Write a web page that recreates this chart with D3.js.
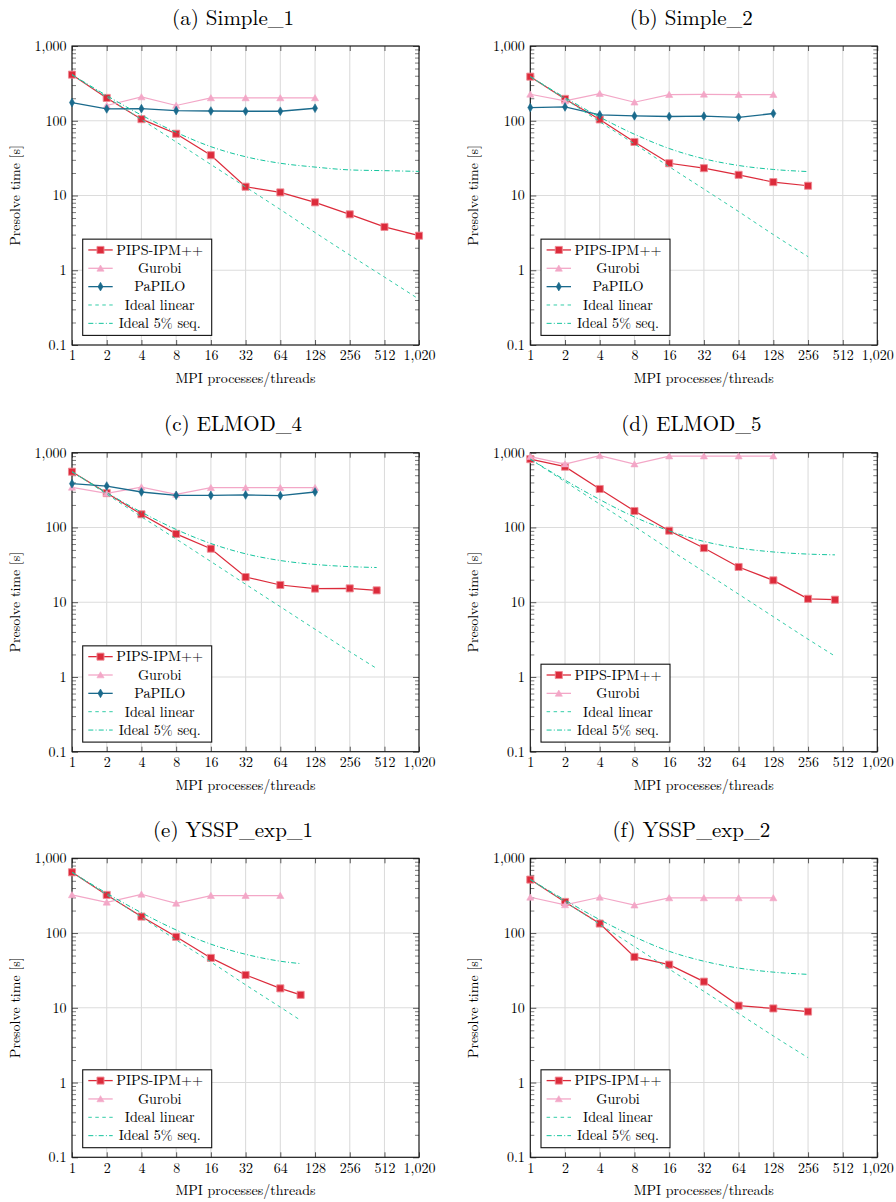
<!DOCTYPE html>
<html><head><meta charset="utf-8">
<script src="https://cdn.jsdelivr.net/npm/d3@7"></script>
<style>
body{margin:0;background:#fff;}
svg text{font-family:"Latin Modern Roman","Liberation Serif",serif;fill:#000;}
</style></head><body>
<svg id="chart" width="896" height="1202" xmlns="http://www.w3.org/2000/svg"></svg>
<script>
// ---------- shared ticks / labels ----------
const xTickValues = [1, 2, 4, 8, 16, 32, 64, 128, 256, 512, 1020];
const yTickValues = [0.1, 1, 10, 100, 1000];
const titles = ["(a) Simple_1", "(b) Simple_2", "(c) ELMOD_4", "(d) ELMOD_5", "(e) YSSP_exp_1", "(f) YSSP_exp_2"];
const seriesNames = ["PIPS-IPM++", "Gurobi", "PaPILO", "Ideal linear", "Ideal 5% seq."];
const xLabel = "MPI processes/threads";
const yLabel = "Presolve time [s]";

// ---------- (a) Simple_1 ----------
const a_pipsProcs = [1, 2, 4, 8, 16, 32, 64, 128, 256, 512, 1020];
const a_pipsTime = [414, 202, 105, 67, 34.6, 13.1, 11, 8.1, 5.6, 3.8, 2.9];
const a_gurobiProcs = [2, 4, 8, 16, 32, 64, 128];
const a_gurobiTime = [160, 208, 160, 202, 202, 202, 202];
const a_papiloProcs = [1, 2, 4, 8, 16, 32, 64, 128];
const a_papiloTime = [175, 144, 145, 137, 135, 134, 134, 147];
const a_idealProcs = [1, 2, 4, 8, 16, 32, 64, 128, 256, 512, 1020];
const a_idealLinear = [414, 207, 104, 52, 26, 13, 6.5, 3.2, 1.6, 0.81, 0.41];
const a_ideal5 = [414, 217, 119, 70, 45, 33, 27, 24, 22, 21.5, 21];

// ---------- (b) Simple_2 ----------
const b_pipsProcs = [1, 2, 4, 8, 16, 32, 64, 128, 256];
const b_pipsTime = [389, 196, 104, 52, 27, 23.2, 18.9, 15.1, 13.5];
const b_gurobiProcs = [1, 2, 4, 8, 16, 32, 64, 128];
const b_gurobiTime = [226, 184, 231, 177, 224, 226, 224, 224];
const b_papiloProcs = [1, 2, 4, 8, 16, 32, 64, 128];
const b_papiloTime = [150, 153, 120, 116, 114, 115, 111, 125];
const b_idealProcs = [1, 2, 4, 8, 16, 32, 64, 128, 256];
const b_idealLinear = [389, 195, 97, 49, 24.3, 12.2, 6.1, 3.0, 1.52];
const b_ideal5 = [389, 204, 112, 66, 42.5, 31, 25.2, 22.3, 20.9];

// ---------- (c) ELMOD_4 ----------
const c_pipsProcs = [1, 2, 4, 8, 16, 32, 64, 128, 256, 438];
const c_pipsTime = [557, 288, 150, 82, 52, 21.7, 17, 15.2, 15.3, 14.4];
const c_gurobiProcs = [1, 2, 4, 8, 16, 32, 64, 128];
const c_gurobiTime = [344, 286, 347, 277, 340, 340, 340, 340];
const c_papiloProcs = [1, 2, 4, 8, 16, 32, 64, 128];
const c_papiloTime = [385, 358, 298, 269, 269, 272, 266, 298];
const c_idealProcs = [1, 2, 4, 8, 16, 32, 64, 128, 256, 438];
const c_idealLinear = [557, 279, 139, 70, 35, 17.4, 8.7, 4.35, 2.18, 1.3];
const c_ideal5 = [557, 292, 160, 94, 61, 44.4, 36.1, 32, 29.9, 29.1];

// ---------- (d) ELMOD_5 ----------
const d_pipsProcs = [1, 2, 4, 8, 16, 32, 64, 128, 256, 438];
const d_pipsTime = [820, 650, 327, 166, 90.5, 53, 29.6, 19.6, 11.1, 10.8];
const d_gurobiProcs = [1, 2, 4, 8, 16, 32, 64, 128];
const d_gurobiTime = [884, 705, 912, 705, 902, 902, 902, 902];
const d_idealProcs = [1, 2, 4, 8, 16, 32, 64, 128, 256, 438];
const d_idealLinear = [820, 410, 205, 103, 51, 25.6, 12.8, 6.4, 3.2, 1.9];
const d_ideal5 = [820, 430, 236, 138, 90, 65, 53, 47, 44, 43];

// ---------- (e) YSSP_exp_1 ----------
const e_pipsProcs = [1, 2, 4, 8, 16, 32, 64, 96];
const e_pipsTime = [650, 324, 166, 89, 46.5, 27.5, 18.2, 14.9];
const e_gurobiProcs = [1, 2, 4, 8, 16, 32, 64];
const e_gurobiTime = [324, 258, 330, 250, 317, 317, 317];
const e_idealProcs = [1, 2, 4, 8, 16, 32, 64, 96];
const e_idealLinear = [650, 325, 163, 81, 41, 20.3, 10.2, 6.8];
const e_ideal5 = [650, 341, 187, 110, 71, 52, 42, 39];

// ---------- (f) YSSP_exp_2 ----------
const f_pipsProcs = [1, 2, 4, 8, 16, 32, 64, 128, 256];
const f_pipsTime = [519, 261, 134, 48, 37.8, 22.4, 10.7, 9.8, 8.9];
const f_gurobiProcs = [1, 2, 4, 8, 16, 32, 64, 128];
const f_gurobiTime = [301, 238, 301, 236, 295, 295, 295, 295];
const f_idealProcs = [1, 2, 4, 8, 16, 32, 64, 128, 256];
const f_idealLinear = [520, 262, 131, 66, 33, 16.6, 8.4, 4.2, 2.15];
const f_ideal5 = [520, 276, 151, 89, 57, 42, 34, 30, 28];

// ---------- table for the library ----------
const panels = [
  {pips: [a_pipsProcs, a_pipsTime], gurobi: [a_gurobiProcs, a_gurobiTime], papilo: [a_papiloProcs, a_papiloTime], ideal: [a_idealProcs, a_idealLinear, a_ideal5]},
  {pips: [b_pipsProcs, b_pipsTime], gurobi: [b_gurobiProcs, b_gurobiTime], papilo: [b_papiloProcs, b_papiloTime], ideal: [b_idealProcs, b_idealLinear, b_ideal5]},
  {pips: [c_pipsProcs, c_pipsTime], gurobi: [c_gurobiProcs, c_gurobiTime], papilo: [c_papiloProcs, c_papiloTime], ideal: [c_idealProcs, c_idealLinear, c_ideal5]},
  {pips: [d_pipsProcs, d_pipsTime], gurobi: [d_gurobiProcs, d_gurobiTime], papilo: null, ideal: [d_idealProcs, d_idealLinear, d_ideal5]},
  {pips: [e_pipsProcs, e_pipsTime], gurobi: [e_gurobiProcs, e_gurobiTime], papilo: null, ideal: [e_idealProcs, e_idealLinear, e_ideal5]},
  {pips: [f_pipsProcs, f_pipsTime], gurobi: [f_gurobiProcs, f_gurobiTime], papilo: null, ideal: [f_idealProcs, f_idealLinear, f_ideal5]}
];

// ---------- styles ----------
const C_PIPS = "#dc2b3b", C_PIPS_EDGE = "#ee8a94";
const C_GUR = "#f3a7c7";
const C_PAP = "#1a6a8c";
const C_LIN = "#34cda8";
const C_SEQ = "#14c59e";
const GRID = "#dcdcdc";
const FONT = "Latin Modern Roman";

const svg = d3.select("#chart");
const W = 347, H = 299;
const lefts = [72, 530.3];
const tops = [46, 452.7, 858.3];

function addText(parent, x, y, str, size, anchor, rot) {
  return parent.append("text")
    .attr("transform", `translate(${x},${y})` + (rot ? ` rotate(${rot})` : ""))
    .attr("text-anchor", anchor).attr("font-family", FONT).attr("font-size", size).text(str);
}

function marker(sel, kind) {
  if (kind === "pips") {
    sel.attr("d", d3.symbol(d3.symbolSquare, 50)()).attr("fill", C_PIPS).attr("stroke", C_PIPS_EDGE).attr("stroke-width", 0.9);
  } else if (kind === "gurobi") {
    sel.attr("d", d3.symbol(d3.symbolTriangle, 22)()).attr("fill", C_GUR).attr("stroke", C_GUR).attr("stroke-width", 0.6);
  } else {
    sel.attr("d", d3.symbol(d3.symbolDiamond, 22)()).attr("fill", C_PAP).attr("stroke", C_PAP).attr("stroke-width", 0.6);
  }
}

panels.forEach((p, i) => {
  const col = i % 2, row = Math.floor(i / 2);
  const x0 = lefts[col], y0 = tops[row];
  const g = svg.append("g").attr("transform", `translate(${x0},${y0})`);
  const x = d3.scaleLog().base(2).domain([1, 1020]).range([0, W]);
  const y = d3.scaleLog().base(10).domain([0.1, 1000]).range([H, 0]);

  // grid
  g.append("g").selectAll("line").data(xTickValues).join("line")
    .attr("x1", d => x(d)).attr("x2", d => x(d)).attr("y1", 0).attr("y2", H)
    .attr("stroke", GRID).attr("stroke-width", 1.1);
  g.append("g").selectAll("line").data(yTickValues).join("line")
    .attr("y1", d => y(d)).attr("y2", d => y(d)).attr("x1", 0).attr("x2", W)
    .attr("stroke", GRID).attr("stroke-width", 1.1);

  // minor y ticks
  const minor = [];
  [0.1, 1, 10, 100].forEach(dec => { for (let k = 2; k <= 9; k++) minor.push(dec * k); });
  const axL = g.append("g").call(d3.axisLeft(y).tickValues(minor).tickSizeInner(-4).tickSizeOuter(0).tickFormat(""));
  const axR = g.append("g").attr("transform", `translate(${W},0)`).call(d3.axisRight(y).tickValues(minor).tickSizeInner(-4).tickSizeOuter(0).tickFormat(""));
  [axL, axR].forEach(a => { a.select(".domain").remove(); a.selectAll("line").attr("stroke", "#444").attr("stroke-width", 0.7); });

  // major axes
  const yAx = g.append("g").call(d3.axisLeft(y).tickValues(yTickValues).tickSizeInner(-6).tickSizeOuter(0).tickPadding(5.5).tickFormat(d3.format(",")));
  const yAxR = g.append("g").attr("transform", `translate(${W},0)`).call(d3.axisRight(y).tickValues(yTickValues).tickSizeInner(-6).tickSizeOuter(0).tickFormat(""));
  const xAx = g.append("g").attr("transform", `translate(0,${H})`).call(d3.axisBottom(x).tickValues(xTickValues).tickSizeInner(-5).tickSizeOuter(0).tickPadding(5.5).tickFormat(d3.format(",")));
  const xAxT = g.append("g").call(d3.axisTop(x).tickValues(xTickValues).tickSizeInner(-5).tickSizeOuter(0).tickFormat(""));
  [yAx, yAxR, xAx, xAxT].forEach(a => {
    a.attr("font-family", FONT);
    a.select(".domain").remove();
    a.selectAll("line").attr("stroke", "#333").attr("stroke-width", 0.8);
    a.selectAll("text").attr("font-family", FONT).attr("font-size", 14).attr("fill", "#000");
  });

  // frame
  g.append("rect").attr("width", W).attr("height", H).attr("fill", "none").attr("stroke", "#111").attr("stroke-width", 1.1);

  const line = d3.line().x(d => x(d[0])).y(d => y(d[1]));
  const smooth = d3.line().x(d => x(d[0])).y(d => y(d[1])).curve(d3.curveMonotoneX);

  // PIPS
  const pd = d3.zip(p.pips[0], p.pips[1]);
  g.append("path").attr("d", line(pd)).attr("fill", "none").attr("stroke", C_PIPS).attr("stroke-width", 1.2);
  g.append("g").selectAll("path").data(pd).join("path").attr("transform", d => `translate(${x(d[0])},${y(d[1])})`).call(marker, "pips");

  // Gurobi
  const gd = d3.zip(p.gurobi[0], p.gurobi[1]);
  g.append("path").attr("d", line(gd)).attr("fill", "none").attr("stroke", C_GUR).attr("stroke-width", 1.2);
  g.append("g").selectAll("path").data(gd).join("path").attr("transform", d => `translate(${x(d[0])},${y(d[1]) + 0.8})`).call(marker, "gurobi");

  // PaPILO
  if (p.papilo) {
    const ppd = d3.zip(p.papilo[0], p.papilo[1]);
    g.append("path").attr("d", line(ppd)).attr("fill", "none").attr("stroke", C_PAP).attr("stroke-width", 1.3);
    g.append("g").selectAll("path").data(ppd).join("path").attr("transform", d => `translate(${x(d[0])},${y(d[1])})`).call(marker, "papilo");
  }

  // ideals
  const lin = d3.zip(p.ideal[0], p.ideal[1]);
  const seq = d3.zip(p.ideal[0], p.ideal[2]);
  g.append("path").attr("d", smooth(lin)).attr("fill", "none").attr("stroke", C_LIN).attr("stroke-width", 1).attr("stroke-dasharray", "3.5,3.5");
  g.append("path").attr("d", smooth(seq)).attr("fill", "none").attr("stroke", C_SEQ).attr("stroke-width", 1).attr("stroke-dasharray", "5,2.2,1,2.2");

  // legend
  const names = p.papilo ? seriesNames : [seriesNames[0], seriesNames[1], seriesNames[3], seriesNames[4]];
  const kinds = p.papilo ? ["pips", "gurobi", "papilo", "lin", "seq"] : ["pips", "gurobi", "lin", "seq"];
  const rowH = 18.35;
  const boxH = names.length * rowH + 4.5;
  const lg = g.append("g").attr("transform", `translate(10.7,${H - 9.6 - boxH})`);
  lg.append("rect").attr("width", 129).attr("height", boxH).attr("fill", "#fff").attr("stroke", "#111").attr("stroke-width", 1.1);
  names.forEach((n, k) => {
    const cy = 10.8 + k * rowH;
    const kind = kinds[k];
    const ln = lg.append("line").attr("x1", 5.6).attr("x2", 30).attr("y1", cy).attr("y2", cy).attr("stroke-width", kind === "lin" || kind === "seq" ? 1 : 1.3);
    if (kind === "pips") ln.attr("stroke", C_PIPS);
    if (kind === "gurobi") ln.attr("stroke", C_GUR);
    if (kind === "papilo") ln.attr("stroke", C_PAP);
    if (kind === "lin") ln.attr("stroke", C_LIN).attr("stroke-dasharray", "3.5,3.5");
    if (kind === "seq") ln.attr("stroke", C_SEQ).attr("stroke-dasharray", "5,2.2,1,2.2");
    if (kind === "pips" || kind === "gurobi" || kind === "papilo") {
      lg.append("path").attr("transform", `translate(17.8,${cy + (kind === "gurobi" ? 0.8 : 0)})`).call(marker, kind);
    }
    addText(lg, 77, cy + 4.8, n, 14.2, "middle");
  });

  // axis labels
  addText(g, W / 2, H + 38, xLabel, 14, "middle");
  addText(g, -52, H / 2, yLabel, 14, "middle", -90);

  // title
  addText(g, W / 2 - 12.5, -21.5, titles[i], 21, "middle");
});
</script>
</body></html>
